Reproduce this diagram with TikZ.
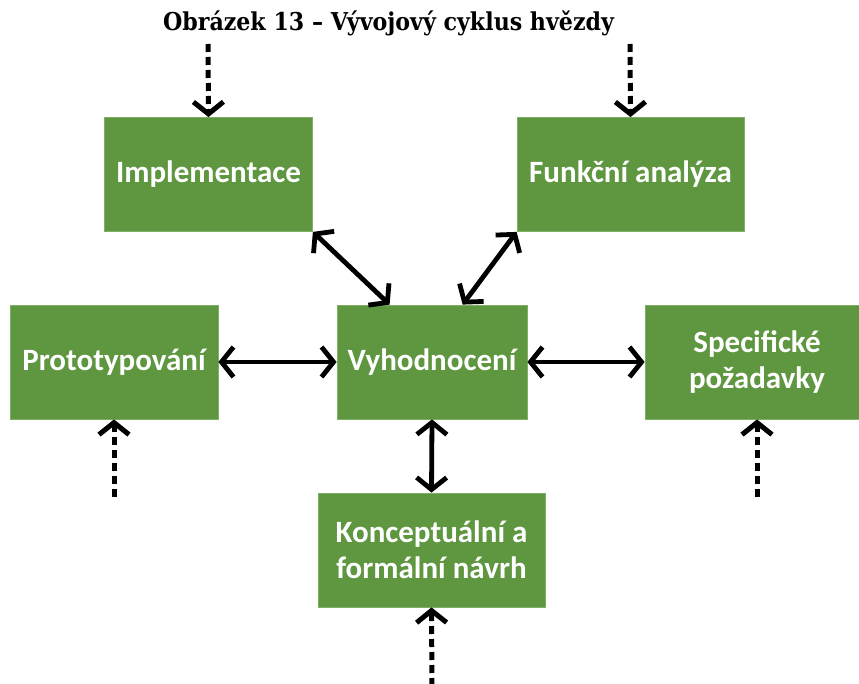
\documentclass[tikz,border=0pt]{standalone}
\usepackage{fontspec}
\setmainfont{Carlito}
\newfontfamily\titlefont{DejaVu Serif Condensed}
\usetikzlibrary{arrows.meta,calc}
\definecolor{boxgreen}{HTML}{5F9640}
\definecolor{boxedge}{HTML}{80AE65}

\begin{document}
\begin{tikzpicture}[x=1pt,y=-1pt,
  box/.style={draw=boxedge, line width=0.8pt, fill=boxgreen, text=white,
    font=\bfseries\fontsize{31}{36}\selectfont, align=center,
    inner sep=0pt, minimum height=114pt},
  link/.style={line width=4.8pt, black, {Straight Barb[length=12pt,width=30pt]}-{Straight Barb[length=12pt,width=30pt]}},
  feed/.style={line width=5pt, black, dash pattern=on 8pt off 5pt, -{Straight Barb[length=12pt,width=30pt]}}]
\path[use as bounding box] (0,0) rectangle (859,684);
\clip (0,0) rectangle (859,684);

% title
\node[anchor=base, font=\titlefont\bfseries\fontsize{24.6}{29}\selectfont] (title) at (388.5,31) {Obrázek 13 – Vývojový cyklus hvězdy};

% boxes
\node[box, minimum width=208pt] (impl) at (208.5,174.5) {Implementace};
\node[box, minimum width=227pt] (funk) at (630.5,174.5) {Funkční analýza};
\node[box, minimum width=208pt] (proto) at (114,362) {Prototypování};
\node[box, minimum width=190pt] (vyh) at (432,362) {Vyhodnocení};
\node[box, minimum width=224pt] (spec) at (757,362) {Specifické\\požadavky};
\node[box, minimum width=227pt] (konc) at (431.5,550) {Konceptuální a\\formální návrh};

% two-way links around the evaluation step
\draw[link] (impl.south east) -- ($(vyh.north west)+(53,0)$);
\draw[link] (funk.south west) -- ($(vyh.north west)+(126,0)$);
\draw[link] (proto.east) -- (vyh.west);
\draw[link] (vyh.east) -- (spec.west);
\draw[link] (vyh.south) -- (konc.north);

% incoming inputs
\coordinate (inImpl) at (208,44);
\coordinate (inFunk) at (630,44);
\coordinate (inProto) at (114,497);
\coordinate (inSpec) at (757,497);
\coordinate (inKonc) at (432,686);
\draw[feed] (inImpl) -- (impl.north);
\draw[feed] (inFunk) -- (funk.north);
\draw[feed] (inProto) -- (proto.south);
\draw[feed] (inSpec) -- (spec.south);
\draw[feed] (inKonc) -- (konc.south);
\end{tikzpicture}
\end{document}
